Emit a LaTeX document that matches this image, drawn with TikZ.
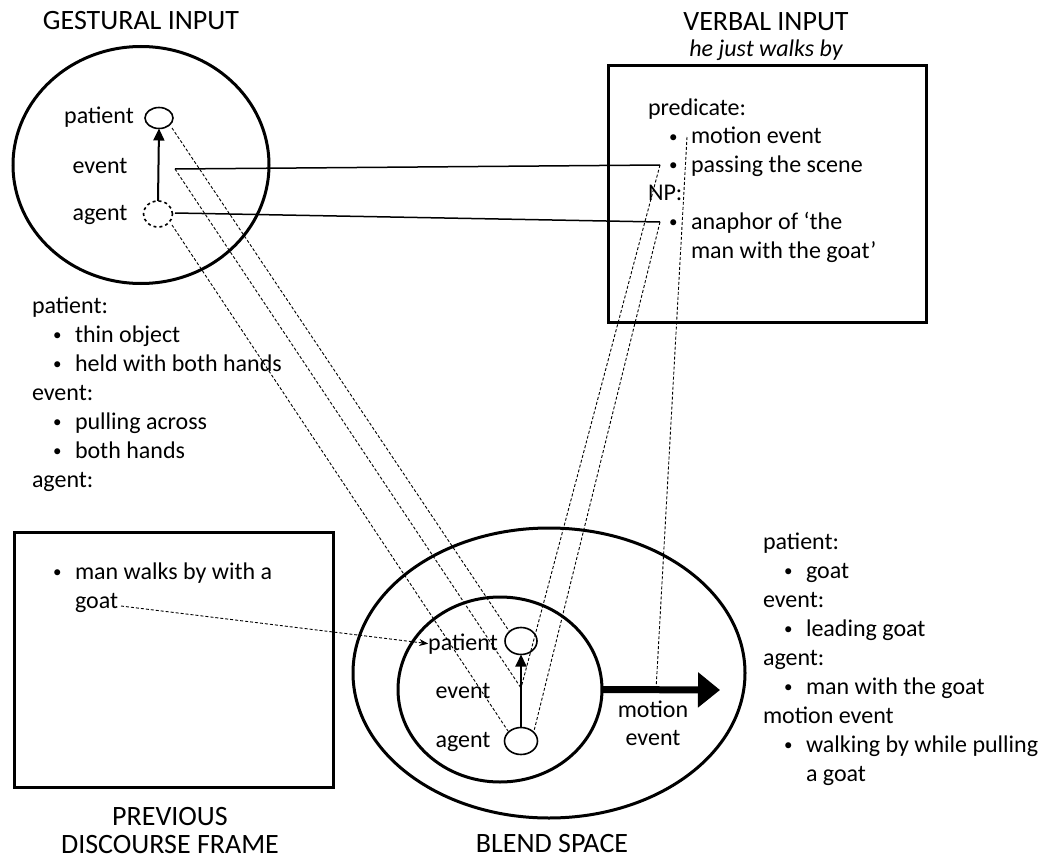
\documentclass[tikz,border=0pt]{standalone}
\usepackage{fontspec}
\setmainfont{Carlito}
\usetikzlibrary{arrows.meta,shapes.geometric}
% bullet item with hanging indent
\newcommand\bul[1]{\makebox[43pt][l]{\hspace{21pt}\raisebox{1.5pt}{\fontsize{17}{17}\selectfont\textbullet}}#1}
\newcommand\cont[1]{\hspace*{43pt}#1}
\begin{document}
\begin{tikzpicture}[x=1pt,y=-1pt,
  every node/.style={font=\fontsize{24}{29}\selectfont, inner sep=0pt, outer sep=0pt},
  frame/.style={draw, line width=3pt},
  space/.style={frame, ellipse},
  box/.style={frame, rectangle},
  heading/.style={font=\fontsize{28}{34}\selectfont, anchor=base, align=center},
  list/.style={anchor=base west, align=left},
  role/.style={anchor=base},
  link/.style={line width=1.5pt},
  map/.style={dash pattern=on 3pt off 2pt, line width=0.9pt},
  slot/.style={draw, ellipse, line width=1.6pt},
  rel/.style={line width=2pt, -{Triangle[length=12pt,width=11pt]}},
]
\useasboundingbox (0,0) rectangle (1047,859);
% multi-line nodes below are placed by the baseline of their last line

% ---------- gestural input ----------
\node[heading] (gtitle) at (141,30) {GESTURAL INPUT};
\node[space, minimum width=256pt, minimum height=237pt] (gest) at (141,165) {};
\node[role] (gpl) at (99,123) {patient};
\node[role] (gel) at (100,173) {event};
\node[role] (gal) at (100,220) {agent};
\node[slot, minimum width=28pt, minimum height=21pt] (gpat) at (159,118) {};
\node[slot, dashed, minimum width=29pt, minimum height=26pt] (gag) at (158,214) {};
\draw[rel] (gag.north) -- (gpat.south);
\coordinate (gP) at (172,128);
\coordinate (gE) at (175,169);
\coordinate (gA) at (172,225);
\coordinate (gA2) at (175,213);

\node[list] (glist) at (32,487) {patient:\\ \bul{thin object}\\ \bul{held with both hands}\\
  event:\\ \bul{pulling across}\\ \bul{both hands}\\ agent:};

% ---------- verbal input ----------
\node[heading] (vtitle) at (766,31) {VERBAL INPUT};
\node[anchor=base, font=\fontsize{24}{29}\selectfont\itshape] (vsub) at (766,57) {he just walks by};
\node[box, minimum width=318pt, minimum height=256pt] (verbal) at (767,194) {};
\node[list] (vlist) at (648,258) {predicate:\\[-0.4pt] \bul{motion event}\\[-0.4pt] \bul{passing the scene}\\[-0.4pt]
  NP:\\[-0.4pt] \bul{anaphor of ‘the}\\[-0.4pt] \cont{man with the goat’}};
\coordinate (vM) at (687,137);
\coordinate (vE) at (660,165);
\coordinate (vA) at (660,222);

% ---------- previous discourse frame ----------
\node[box, minimum width=319pt, minimum height=255pt] (prev) at (173.5,659.5) {};
\node[list] (plist) at (32,608) {\bul{man walks by with a}\\ \cont{goat}};
\node[heading] (ptitle) at (170,853) {PREVIOUS\\[-6pt] DISCOURSE FRAME};
\coordinate (pG) at (121,606);

% ---------- blend space ----------
\node[space, minimum width=392pt, minimum height=290pt] (blend) at (549,673) {};
\node[space, minimum width=204pt, minimum height=185pt] (inner) at (500,689.5) {};
\node[heading] (btitle) at (552,852) {BLEND SPACE};
\node[role] (bpl) at (463,650) {patient};
\node[role] (bel) at (463,698) {event};
\node[role] (bal) at (463,747) {agent};
\node[slot, minimum width=32pt, minimum height=27pt] (bpat) at (521,641) {};
\node[slot, minimum width=33pt, minimum height=27pt] (bag) at (521,741) {};
\draw[rel] (bag.north) -- (bpat.south);
\coordinate (bP) at (509,631);
\coordinate (bE) at (521,688);
\coordinate (bA) at (508,731);
\coordinate (bA2) at (534,731);
\coordinate (tip) at (720,690);
\draw[line width=7pt, -{Triangle[length=22pt 0,width=34pt 0]}] (inner.east) -- (tip);
\coordinate (bM) at (656,690);
\node[role, align=center] (ml) at (653,745) {motion\\[-1pt] event};

\node[list] (blist) at (763,781) {patient:\\ \bul{goat}\\ event:\\ \bul{leading goat}\\
  agent:\\ \bul{man with the goat}\\ motion event\\ \bul{walking by while pulling}\\ \cont{a goat}};

% ---------- mappings ----------
\draw[link] (gE) -- (vE);
\draw[link] (gA2) -- (vA);
\draw[map] (gP) -- (bP);
\draw[map] (gE) -- (bE);
\draw[map] (gA) -- (bA);
\draw[map] (vE) -- (bE);
\draw[map] (vA) -- (bA2);
\draw[map] (vM) -- (bM);
\draw[map, -{Stealth[length=9pt,width=7pt]}] (pG) -- (bpl.west);
\end{tikzpicture}
\end{document}
